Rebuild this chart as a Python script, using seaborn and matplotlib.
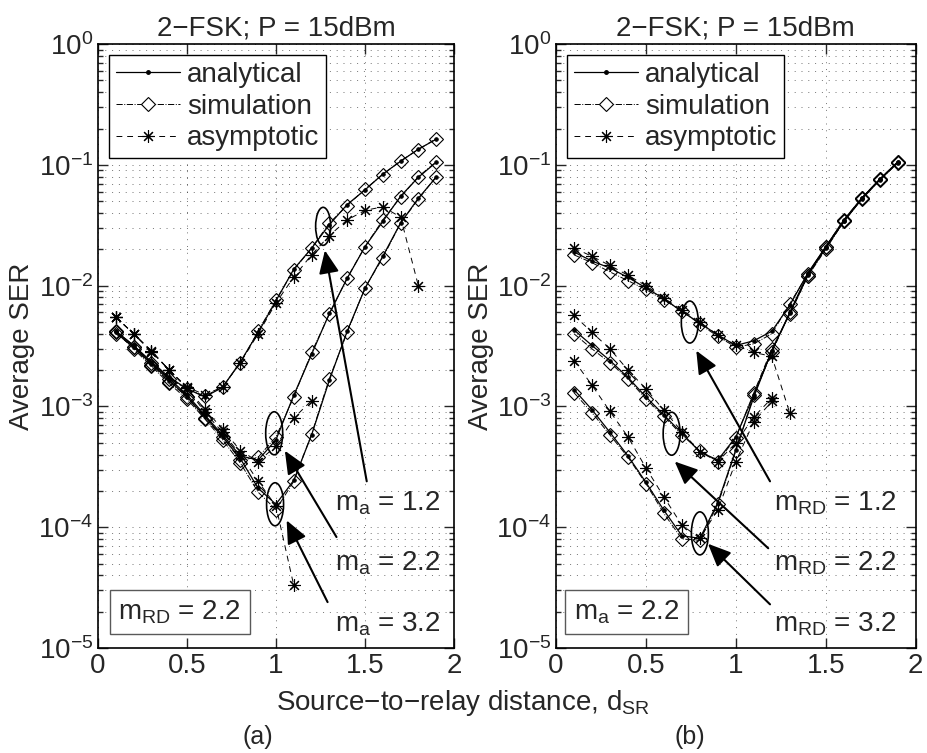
import numpy as np
import matplotlib
matplotlib.use('Agg')
import matplotlib.pyplot as plt
import matplotlib.transforms as mtransforms
from matplotlib.patches import Ellipse
from matplotlib.lines import Line2D
from matplotlib.ticker import LogLocator, NullFormatter
import seaborn as sns

# source-to-relay distance grid
d_sr = [0.1, 0.2, 0.3, 0.4, 0.5, 0.6, 0.7, 0.8, 0.9, 1.0,
        1.1, 1.2, 1.3, 1.4, 1.5, 1.6, 1.7, 1.8, 1.9]

# panel (a): m_RD = 2.2, m_a = 1.2 / 2.2 / 3.2
ana_a12 = [4.2e-3, 3.2e-3, 2.35e-3, 1.75e-3, 1.4e-3, 1.2e-3, 1.44e-3, 2.34e-3, 4.1e-3, 7.5e-3,
           1.37e-2, 2.04e-2, 3.2e-2, 4.7e-2, 6.2e-2, 8.4e-2, 0.107, 0.135, 0.163]
ana_a22 = [4.2e-3, 3.2e-3, 2.3e-3, 1.7e-3, 1.25e-3, 8.5e-4, 5.8e-4, 3.9e-4, 3.6e-4, 5.3e-4,
           1.24e-3, 2.7e-3, 5.9e-3, 1.15e-2, 2.1e-2, 3.4e-2, 5.5e-2, 7.9e-2, 0.105]
ana_a32 = [4.1e-3, 3.1e-3, 2.25e-3, 1.65e-3, 1.2e-3, 8.3e-4, 5.6e-4, 3.7e-4, 2.1e-4, 1.55e-4,
           2.45e-4, 5.8e-4, 1.65e-3, 4.2e-3, 9.5e-3, 1.75e-2, 3.3e-2, 5.3e-2, 7.9e-2]
sim_a12 = [4.1e-3, 3.1e-3, 2.3e-3, 1.7e-3, 1.4e-3, 1.22e-3, 1.45e-3, 2.3e-3, 4.2e-3, 7.6e-3,
           1.35e-2, 2.05e-2, 3.3e-2, 4.6e-2, 6.3e-2, 8.3e-2, 0.108, 0.134, 0.165]
sim_a22 = [4.0e-3, 3.1e-3, 2.2e-3, 1.6e-3, 1.2e-3, 8.0e-4, 5.6e-4, 3.6e-4, 3.8e-4, 5.6e-4,
           1.2e-3, 2.8e-3, 5.8e-3, 1.16e-2, 2.1e-2, 3.5e-2, 5.4e-2, 8.0e-2, 0.106]
sim_a32 = [4.2e-3, 3.0e-3, 2.15e-3, 1.55e-3, 1.15e-3, 7.9e-4, 5.3e-4, 3.4e-4, 1.95e-4, 1.4e-4,
           2.4e-4, 5.9e-4, 1.7e-3, 4.1e-3, 9.6e-3, 1.7e-2, 3.3e-2, 5.2e-2, 8.0e-2]
asy_a12 = [5.5e-3, 4.0e-3, 2.9e-3, 2.0e-3, 1.45e-3, 1.25e-3, 1.45e-3, 2.3e-3, 4.0e-3, 7.2e-3,
           1.18e-2, 1.8e-2, 2.6e-2, 3.5e-2, 4.2e-2, 4.5e-2, 3.7e-2, 1.0e-2]
asy_a22 = [5.5e-3, 4.0e-3, 2.85e-3, 2.0e-3, 1.42e-3, 9.5e-4, 6.5e-4, 4.3e-4, 3.5e-4, 4.7e-4,
           8.0e-4, 1.12e-3]
asy_a32 = [5.5e-3, 4.0e-3, 2.85e-3, 2.0e-3, 1.42e-3, 9.0e-4, 6.1e-4, 4.0e-4, 2.4e-4, 1.5e-4,
           3.3e-5]

# panel (b): m_a = 2.2, m_RD = 1.2 / 2.2 / 3.2
ana_rd12 = [1.9e-2, 1.6e-2, 1.4e-2, 1.17e-2, 9.6e-3, 7.8e-3, 6.1e-3, 4.9e-3, 3.9e-3, 3.2e-3,
            3.5e-3, 4.2e-3, 6.9e-3, 1.27e-2, 2.1e-2, 3.5e-2, 5.3e-2, 7.6e-2, 0.106]
ana_rd22 = [4.3e-3, 3.2e-3, 2.4e-3, 1.74e-3, 1.2e-3, 8.5e-4, 6.0e-4, 4.2e-4, 3.6e-4, 5.6e-4,
            1.25e-3, 2.9e-3, 6.0e-3, 1.25e-2, 2.1e-2, 3.4e-2, 5.3e-2, 7.6e-2, 0.105]
ana_rd32 = [1.38e-3, 9.4e-4, 6.1e-4, 3.9e-4, 2.35e-4, 1.38e-4, 8.5e-5, 8.1e-5, 1.6e-4, 4.4e-4,
            1.2e-3, 2.9e-3, 5.9e-3, 1.22e-2, 2.05e-2, 3.4e-2, 5.2e-2, 7.5e-2, 0.104]
sim_rd12 = [1.8e-2, 1.55e-2, 1.3e-2, 1.1e-2, 9.3e-3, 7.6e-3, 6.2e-3, 4.8e-3, 3.8e-3, 3.1e-3,
            3.3e-3, 4.0e-3, 7.1e-3, 1.25e-2, 2.1e-2, 3.5e-2, 5.3e-2, 7.6e-2, 0.106]
sim_rd22 = [4.0e-3, 3.0e-3, 2.3e-3, 1.7e-3, 1.15e-3, 8.3e-4, 5.8e-4, 4.3e-4, 3.5e-4, 5.5e-4,
            1.3e-3, 3.0e-3, 5.8e-3, 1.2e-2, 2.1e-2, 3.4e-2, 5.3e-2, 7.6e-2, 0.105]
sim_rd32 = [1.3e-3, 8.9e-4, 5.8e-4, 3.8e-4, 2.3e-4, 1.3e-4, 8.0e-5, 7.8e-5, 1.55e-4, 4.3e-4,
            1.25e-3, 2.8e-3, 6.0e-3, 1.2e-2, 2.0e-2, 3.4e-2, 5.2e-2, 7.5e-2, 0.104]
asy_rd12 = [2.05e-2, 1.75e-2, 1.47e-2, 1.22e-2, 1.0e-2, 7.9e-3, 6.3e-3, 5.0e-3, 3.9e-3, 3.2e-3,
            2.8e-3, 2.6e-3, 8.8e-4]
asy_rd22 = [5.7e-3, 4.1e-3, 3.0e-3, 2.0e-3, 1.4e-3, 9.3e-4, 6.2e-4, 4.2e-4, 3.5e-4, 5.0e-4,
            8.2e-4, 1.17e-3]
asy_rd32 = [2.4e-3, 1.5e-3, 9.1e-4, 5.6e-4, 3.1e-4, 1.78e-4, 1.04e-4, 8.1e-5, 1.4e-4, 3.5e-4,
            7.5e-4, 1.1e-3]

# annotation labels and where they point
labels_a = ['$\\mathrm{m}_{\\mathrm{a}}$ = 1.2', '$\\mathrm{m}_{\\mathrm{a}}$ = 2.2', '$\\mathrm{m}_{\\mathrm{a}}$ = 3.2']
labels_b = ['$\\mathrm{m}_{\\mathrm{RD}}$ = 1.2', '$\\mathrm{m}_{\\mathrm{RD}}$ = 2.2', '$\\mathrm{m}_{\\mathrm{RD}}$ = 3.2']
label_y = [1.58e-4, 5.0e-5, 1.57e-5]
ell_a = [(1.265, 3.1e-2, 15, 38), (0.99, 6.0e-4, 17, 43), (0.995, 1.55e-4, 17, 43)]
arr_a = [((1.275, 1.96e-2), (1.51, 2.4e-4)), ((1.05, 4.3e-4), (1.34, 8.3e-5)), ((1.06, 1.14e-4), (1.29, 2.4e-5))]
ell_b = [(0.744, 5.0e-3, 17, 42), (0.643, 5.95e-4, 17, 43), (0.80, 8.9e-5, 17, 43)]
arr_b = [((0.78, 2.9e-3), (1.19, 2.4e-4)), ((0.66, 3.5e-4), (1.18, 6.7e-5)), ((0.845, 7.3e-5), (1.19, 2.3e-5))]

sns.set_style('ticks')
plt.rcParams['font.family'] = ['Liberation Sans', 'DejaVu Sans']
plt.rcParams['mathtext.fontset'] = 'custom'
plt.rcParams['mathtext.rm'] = 'Liberation Sans'
plt.rcParams['mathtext.it'] = 'Liberation Sans:italic'
plt.rcParams['mathtext.bf'] = 'Liberation Sans:bold'
plt.rcParams['axes.unicode_minus'] = True

FS = 20
STAR = (8, 2, 0)
GRID = dict(linestyle=(0, (1, 6)), color='k', lw=0.7, alpha=0.55)

fig = plt.figure(figsize=(9.27, 7.53), dpi=100)
ax_a = fig.add_axes([0.1057, 0.1394, 0.384, 0.802])
ax_b = fig.add_axes([0.5998, 0.1394, 0.388, 0.802])


def draw_panel(ax, anas, sims, asys, ells, arrs, labels, lab_x, box_text, box_x):
    ax.set_yscale('log')
    for s in sims:
        sns.lineplot(x=d_sr[:len(s)], y=s, ax=ax, color='k', lw=0.7, linestyle='-.',
                     marker='D', ms=7, mfc='none', mec='k', mew=0.8, errorbar=None)
    for t in asys:
        sns.lineplot(x=d_sr[:len(t)], y=t, ax=ax, color='k', lw=0.7, linestyle=(0, (6, 5)),
                     marker=STAR, ms=9, mec='k', mew=0.8, errorbar=None)
    for a in anas:
        sns.lineplot(x=d_sr[:len(a)], y=a, ax=ax, color='k', lw=0.9, linestyle='-',
                     marker='.', ms=5, mfc='k', mec='k', errorbar=None)

    ax.set_xlim(0, 2)
    ax.set_ylim(1e-5, 1)
    ax.set_xticks([0, 0.5, 1, 1.5, 2])
    ax.set_xticklabels(['0', '0.5', '1', '1.5', '2'])
    ax.yaxis.set_major_locator(LogLocator(base=10, numticks=10))
    ax.yaxis.set_minor_locator(LogLocator(base=10, subs=np.arange(2, 10), numticks=20))
    ax.yaxis.set_minor_formatter(NullFormatter())
    ax.grid(True, which='both', axis='y', **GRID)
    ax.grid(True, which='major', axis='x', **GRID)
    ax.tick_params(which='both', direction='in', top=True, right=True, labelsize=FS, width=1)
    ax.tick_params(which='major', length=7)
    ax.tick_params(which='minor', length=3.5)
    for sp in ax.spines.values():
        sp.set_linewidth(1.2)
        sp.set_color('k')
    ax.set_xlabel('')
    ax.set_ylabel('Average SER', fontsize=FS, labelpad=2)
    ax.set_title('2\u2212FSK; P = 15dBm', fontsize=FS, pad=6)

    handles = [
        Line2D([], [], color='k', lw=0.9, marker='.', ms=5, label='analytical'),
        Line2D([], [], color='k', lw=0.7, ls='-.', marker='D', ms=7, mfc='w', mew=0.8, label='simulation'),
        Line2D([], [], color='k', lw=0.7, ls=(0, (6, 5)), marker=STAR, ms=9, mew=0.8, label='asymptotic'),
    ]
    leg = ax.legend(handles=handles, loc='upper left', fontsize=FS, frameon=True, fancybox=False,
                    edgecolor='k', framealpha=1, handlelength=2.3, handletextpad=0.25,
                    borderpad=0.25, labelspacing=0.2, borderaxespad=0.4)
    leg.get_frame().set_linewidth(1.0)

    for (cx, cy, w, h) in ells:
        tr = fig.dpi_scale_trans + mtransforms.ScaledTranslation(cx, cy, ax.transData)
        ax.add_patch(Ellipse((0, 0), w / 100, h / 100, transform=tr, fill=False, ec='k', lw=1.2))
    for (head, tail) in arrs:
        ax.annotate('', xy=head, xytext=tail,
                    arrowprops=dict(arrowstyle='-|>,head_length=0.5,head_width=0.22', color='k',
                                    lw=1.5, mutation_scale=28, shrinkA=0, shrinkB=0))
    for lab, ly in zip(labels, label_y):
        ax.text(lab_x, ly, lab, fontsize=FS, ha='left', va='center')

    ax.text(box_x, 0.06, box_text, transform=ax.transAxes, fontsize=FS, ha='center', va='center',
            bbox=dict(boxstyle='square,pad=0.3', fc='w', ec='0.35', lw=1))


draw_panel(ax_a, [ana_a12, ana_a22, ana_a32], [sim_a12, sim_a22, sim_a32],
           [asy_a12, asy_a22, asy_a32], ell_a, arr_a, labels_a, 1.33,
           '$\\mathrm{m}_{\\mathrm{RD}}$ = 2.2', 0.23)
draw_panel(ax_b, [ana_rd12, ana_rd22, ana_rd32], [sim_rd12, sim_rd22, sim_rd32],
           [asy_rd12, asy_rd22, asy_rd32], ell_b, arr_b, labels_b, 1.21,
           '$\\mathrm{m}_{\\mathrm{a}}$ = 2.2', 0.196)

fig.text(0.4995, 1 - 703 / 753, 'Source\u2212to\u2212relay distance, d$_{\\mathrm{SR}}$',
         fontsize=FS, ha='center', va='center')
fig.text(258 / 927, 1 - 737 / 753, '(a)', fontsize=FS - 2, ha='center', va='center')
fig.text(690 / 927, 1 - 737 / 753, '(b)', fontsize=FS - 2, ha='center', va='center')

fig.savefig('out.png', dpi=100)
